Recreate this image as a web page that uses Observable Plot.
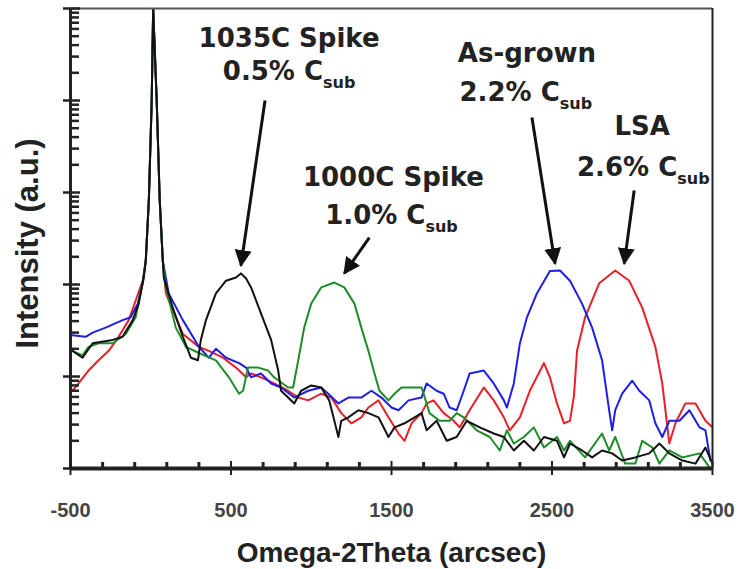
<!DOCTYPE html>
<html><head><meta charset="utf-8">
<script src="https://cdn.jsdelivr.net/npm/d3@7"></script>
<script src="https://cdn.jsdelivr.net/npm/@observablehq/plot@0.6"></script>
<style>body{margin:0;background:#fff}</style>
</head><body><div id="chart"></div>
<script>
// Omega-2Theta (arcsec) and intensity (a.u.) for each sample
const blackX = [-488,-425,-362,-237,-175,-112,-75,-44,-31,-12,6,15,37,56,75,81,137,200,250,294,312,344,406,469,531,562,594,625,688,750,794,812,856,894,937,1000,1062,1112,1144,1169,1187,1231,1294,1356,1419,1481,1519,1581,1644,1687,1719,1781,1844,1906,1969,2050,2137,2200,2262,2325,2387,2450,2531,2575,2612,2687,2750,2812,2875,2937,3019,3106,3169,3231,3312,3394,3456,3500];
const blackY = [19,16,23,25,27,41,62,119,182,819,10000,100000,10000,819,182,119,56,27,16,15,25,41,80,110,119,132,116,93,48,25,11.6,7.0,5.9,5.1,7.0,8.0,7.6,5.5,3.3,2.2,3.3,3.6,4.3,4.0,3.6,2.2,2.8,3.1,3.6,4.0,2.6,3.3,2.0,2.2,3.3,2.8,2.4,2.2,1.57,2.0,1.57,2.2,2.0,1.32,1.87,1.57,1.32,1.57,1.46,1.22,1.32,1.46,1.87,1.46,1.22,1.13,1.69,1.13];

const greenX = [-488,-425,-388,-325,-237,-156,-94,-44,-31,-12,6,15,37,56,75,94,156,219,300,406,487,550,575,606,669,731,769,856,887,919,956,1000,1062,1144,1206,1269,1312,1356,1394,1425,1481,1519,1562,1625,1687,1700,1737,1800,1862,1906,1950,2031,2112,2175,2219,2262,2325,2387,2450,2531,2575,2612,2706,2812,2856,2894,2956,3019,3062,3125,3169,3231,3312,3419,3481];
const greenY = [19,17,21,23,23,29,44,119,182,819,10000,100000,10000,819,182,93,34,21,18,15,9.8,6.5,7.0,12.5,12.5,11.6,9.8,7.6,7.6,15,34,62,93,105,93,62,34,19,10.8,7.0,5.5,6.5,7.6,7.6,7.6,6.5,4.0,3.3,3.3,4.0,3.6,2.6,2.2,1.57,2.6,1.87,2.2,2.8,1.69,2.2,1.57,2.0,1.32,2.4,1.57,2.2,1.13,1.13,2.0,1.69,1.13,1.57,1.32,1.46,1.03];

const blueX = [-488,-406,-362,-281,-175,-125,-81,-50,-31,-12,6,15,37,56,75,112,200,300,362,406,469,550,594,625,687,750,812,894,981,1062,1106,1169,1231,1312,1375,1437,1500,1544,1606,1687,1719,1781,1825,1862,1906,1950,1987,2075,2137,2200,2219,2262,2300,2344,2406,2487,2550,2612,2687,2750,2812,2856,2875,2894,2937,3000,3044,3106,3144,3187,3231,3294,3356,3419,3456,3487];
const blueY = [28,27,30,34,41,44,62,103,182,819,10000,100000,10000,819,182,80,41,21,16,20,16,14,12.5,9.8,10.8,8.4,7.6,5.9,7.0,7.6,6.5,5.1,5.9,5.9,7.0,5.9,4.6,4.3,5.5,5.9,8.4,7.0,6.5,4.6,4.3,7.0,10.8,11.6,8.4,5.5,4.6,8.4,23,44,80,140,142,110,62,34,15,4.3,2.6,4.3,6.5,9.0,7.0,5.5,3.1,2.2,3.3,3.3,4.3,2.8,2.6,1.22];

const redX = [-488,-450,-388,-325,-262,-200,-137,-94,-50,-31,-12,6,15,37,56,75,94,200,300,362,450,531,594,625,687,769,856,919,981,1062,1125,1187,1250,1312,1356,1419,1481,1544,1581,1625,1687,1719,1762,1825,1887,1925,1987,2075,2137,2200,2237,2300,2362,2450,2487,2531,2575,2612,2637,2656,2706,2794,2894,2981,3062,3144,3187,3231,3269,3331,3394,3456,3500];
const redY = [7.0,8.4,11.6,15,19,27,41,67,110,182,819,10000,100000,10000,819,182,80,29,21,19,16,12.5,9.8,10.8,9.8,8.4,7.0,5.9,5.5,6.5,5.9,4.0,3.1,3.6,4.6,5.5,3.6,2.4,2.0,3.1,4.0,5.1,5.5,4.0,3.3,2.8,4.3,7.6,5.5,3.6,2.6,3.6,7.0,14,9.8,5.1,3.1,3.3,6.2,19,44,103,142,110,56,21,8.4,1.87,3.1,5.1,5.1,3.3,2.8];

// annotations
const annoLabels = ["1035C Spike","0.5% C_sub","1000C Spike","1.0% C_sub","As-grown","2.2% C_sub","LSA","2.6% C_sub"];
const annoX = [862,862,1512,1500,2344,2337,3062,3069];
const annoY = [37700,16500,1190,460,25900,10000,4170,1530];

const arrowX1 = [712,1362,2375,3012];
const arrowY1 = [10000,324,6530,1051];
const arrowX2 = [562,1206,2519,2950];
const arrowY2 = [161,132,169,169];

// ticks
const xMajor = [-500,500,1500,2500,3500];
const xMinor = [-300,-100,100,300,700,900,1100,1300,1700,1900,2100,2300,2700,2900,3100,3300];
const yMajor = [1,10,100,1000,10000,100000];
const yMinor = [2,3,4,5,6,7,8,9,20,30,40,50,60,70,80,90,200,300,400,500,600,700,800,900,2000,3000,4000,5000,6000,7000,8000,9000,20000,30000,40000,50000,60000,70000,80000,90000];

const rows = (xs, ys) => xs.map((x,i) => ({x, y: ys[i]}));
const annoRows = annoLabels.map((label,i) => ({label, x: annoX[i], y: annoY[i]}));
const arrowRows = arrowX1.map((x1,i) => ({x1, y1: arrowY1[i], x2: arrowX2[i], y2: arrowY2[i]}));

const font = "'Liberation Sans', Arial, sans-serif";
const axisStroke = "#222";

const svg = Plot.plot({
  width: 742, height: 569,
  marginLeft: 70, marginRight: 30, marginTop: 8, marginBottom: 101,
  x: {domain: [-500, 3500], axis: null},
  y: {type: "log", domain: [1, 1e5], axis: null},
  style: {fontFamily: font, background: "#fff"},
  marks: [
    Plot.line(rows(redX, redY), {x: "x", y: "y", stroke: "#e82028", strokeWidth: 2, clip: true}),
    Plot.line(rows(blueX, blueY), {x: "x", y: "y", stroke: "#1e1ee6", strokeWidth: 2, clip: true}),
    Plot.line(rows(greenX, greenY), {x: "x", y: "y", stroke: "#1f8c2a", strokeWidth: 2, clip: true}),
    Plot.line(rows(blackX, blackY), {x: "x", y: "y", stroke: "#111", strokeWidth: 2, clip: true}),
    // minor ticks (inward)
    Plot.axisY(yMinor, {tickSize: 9, dx: 9, fill: "none", stroke: axisStroke, strokeWidth: 2.5, label: null}),
    Plot.axisX(xMinor, {tickSize: 6, dy: -6, fill: "none", stroke: axisStroke, strokeWidth: 3, label: null}),
    // frame and axes
    Plot.ruleY([1e5], {stroke: "#555", strokeWidth: 2}),
    Plot.ruleX([3500], {stroke: axisStroke, strokeWidth: 2}),
    Plot.ruleX([-500], {stroke: axisStroke, strokeWidth: 3}),
    Plot.ruleY([1], {stroke: axisStroke, strokeWidth: 4}),
    Plot.axisX(xMajor, {tickSize: 14, dy: -7, fill: "none", stroke: axisStroke, strokeWidth: 2, label: null}),
    Plot.axisX(xMajor, {tickSize: 0, tickPadding: 34, tickFormat: d => String(d), fontSize: 20, fontWeight: "bold", fill: "#444", label: null}),
    Plot.axisY(yMajor, {tickSize: 17, dx: 10, fill: "none", stroke: axisStroke, strokeWidth: 2.5, label: null}),
    Plot.link(arrowRows, {x1: "x1", y1: "y1", x2: "x2", y2: "y2", stroke: "#111", strokeWidth: 3}),
    Plot.text(annoRows, {x: "x", y: "y", text: "label", fontFamily: "'DejaVu Sans', sans-serif", fontWeight: "bold", fontSize: 26, fill: "#222", lineAnchor: "bottom", textAnchor: "middle"}),
    Plot.text(["Intensity (a.u.)"], {text: d => d, frameAnchor: "left", textAnchor: "middle", lineAnchor: "middle", rotate: -90, dx: -42, dy: 5, fontSize: 31, fontWeight: "bold", fill: "#222"}),
    Plot.text(["Omega-2Theta (arcsec)"], {text: d => d, frameAnchor: "bottom", textAnchor: "middle", lineAnchor: "middle", dy: 85, fontSize: 28, fontWeight: "bold", fill: "#222"})
  ]
});

const s = d3.select(svg);
s.selectAll("text").each(function() {
  const t = this.textContent;
  if (t.endsWith("_sub")) {
    this.textContent = t.slice(0, -4);
    d3.select(this).append("tspan").attr("dy", 8).attr("font-size", 16).text("sub");
  }
});
const defs = s.insert("defs", ":first-child");
defs.append("marker").attr("id", "ahead").attr("viewBox", "0 0 10 10")
  .attr("refX", 9).attr("refY", 5).attr("markerUnits", "userSpaceOnUse")
  .attr("markerWidth", 17).attr("markerHeight", 17).attr("orient", "auto")
  .append("path").attr("d", "M0,0L10,5L0,10Z").attr("fill", "#111");
s.selectAll('g[aria-label="link"] path').attr("marker-end", "url(#ahead)");

document.getElementById("chart").appendChild(svg);
</script></body></html>
